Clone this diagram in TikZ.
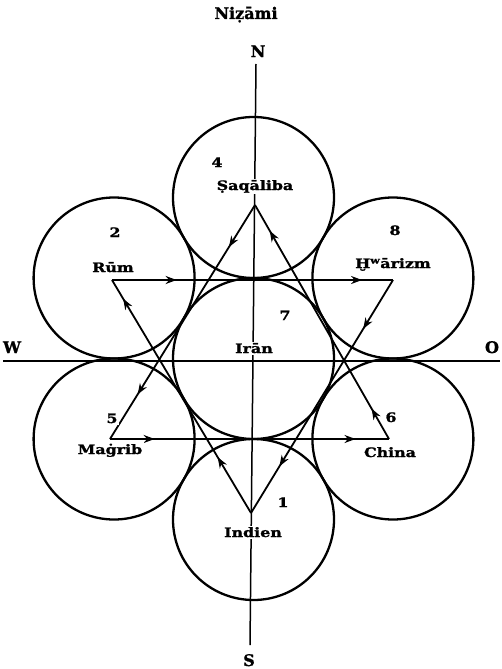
\documentclass[tikz,border=0pt]{standalone}
\usepackage{fontspec}
\setmainfont{DejaVu Serif}[BoldFeatures={FakeBold=1.2}]
\newfontfamily\lbl{DejaVu Serif}[FakeStretch=1.22,BoldFeatures={FakeBold=1.4}]
\usetikzlibrary{arrows.meta,decorations.markings}
\begin{document}
\begin{tikzpicture}[x=1pt,y=-1pt,
  circ/.style={line width=2.3pt},
  ax/.style={line width=1.5pt},
  edgeline/.style={line width=1.8pt},
  tipa/.tip={Stealth[length=11pt,width=8pt,inset=3.5pt]},
  arr/.style 2 args={postaction={decorate},decoration={markings,
     mark=at position #1 with {\arrow{tipa}},
     mark=at position #2 with {\arrow{tipa}}}},
  lab/.style={font=\lbl\bfseries\fontsize{13}{13}\selectfont, fill=white, inner sep=1.5pt, anchor=base},
  big/.style={font=\bfseries\fontsize{16}{16}\selectfont, inner sep=0pt, anchor=base}]
\useasboundingbox (0,0) rectangle (501,669);
% axes
\coordinate (ntop) at (256,64);
\coordinate (sbot) at (250,645);
\coordinate (wend) at (3,361);
\coordinate (oend) at (500,361);
\draw[ax] (ntop) -- (sbot);
\draw[ax] (wend) -- (oend);
% circles
\draw[circ] (253.5,358.5) circle[radius=80.5];
\draw[circ] (253.5,197.5) circle[radius=80.5];
\draw[circ] (253.5,519.5) circle[radius=80.5];
\draw[circ] (114.1,278) circle[radius=80.5];
\draw[circ] (392.9,278) circle[radius=80.5];
\draw[circ] (114.1,439) circle[radius=80.5];
\draw[circ] (392.9,439) circle[radius=80.5];
% triangle vertices
\coordinate (saq) at (255,205);
\coordinate (rum) at (112,280);
\coordinate (hwa) at (393,280);
\coordinate (mag) at (110,439);
\coordinate (chi) at (389,439);
\coordinate (ind) at (251,513);
% triangle 1
\draw[edgeline,arr={0.23}{0.89}] (rum) -- (hwa);
\draw[edgeline,arr={0.21}{0.80}] (hwa) -- (ind);
\draw[edgeline,arr={0.24}{0.92}] (ind) -- (rum);
% triangle 2
\draw[edgeline,arr={0.18}{0.81}] (saq) -- (mag);
\draw[edgeline,arr={0.16}{0.88}] (mag) -- (chi);
\draw[edgeline,arr={0.13}{0.89}] (chi) -- (saq);
% labels
\node[big] (title) at (246,19) {Niẓāmi};
\node[big] (nl) at (258,57) {N};
\node[big] (sl) at (249,666) {S};
\node[big] (wl) at (12,353) {W};
\node[big] (ol) at (492,353) {O};
\node[lab] (n4) at (217,167) {4};
\node[lab] (saql) at (255,190) {Ṣaqāliba};
\node[lab] (n2) at (115,237) {2};
\node[lab] (ruml) at (113,272) {Rūm};
\node[lab] (n8) at (395,235) {8};
\node[lab] (hwal) at (393,268) {Ḫ\textsuperscript{w}ārizm};
\node[lab] (n7) at (285,320) {7};
\node[lab] (iranl) at (254,353) {Irān};
\node[lab] (n5) at (112,423) {5};
\node[lab] (magl) at (110,454) {Maġrib};
\node[lab] (n6) at (391,422) {6};
\node[lab] (chil) at (390,457) {China};
\node[lab] (n1) at (283,507) {1};
\node[lab] (indl) at (253,537) {Indien};
\end{tikzpicture}
\end{document}
